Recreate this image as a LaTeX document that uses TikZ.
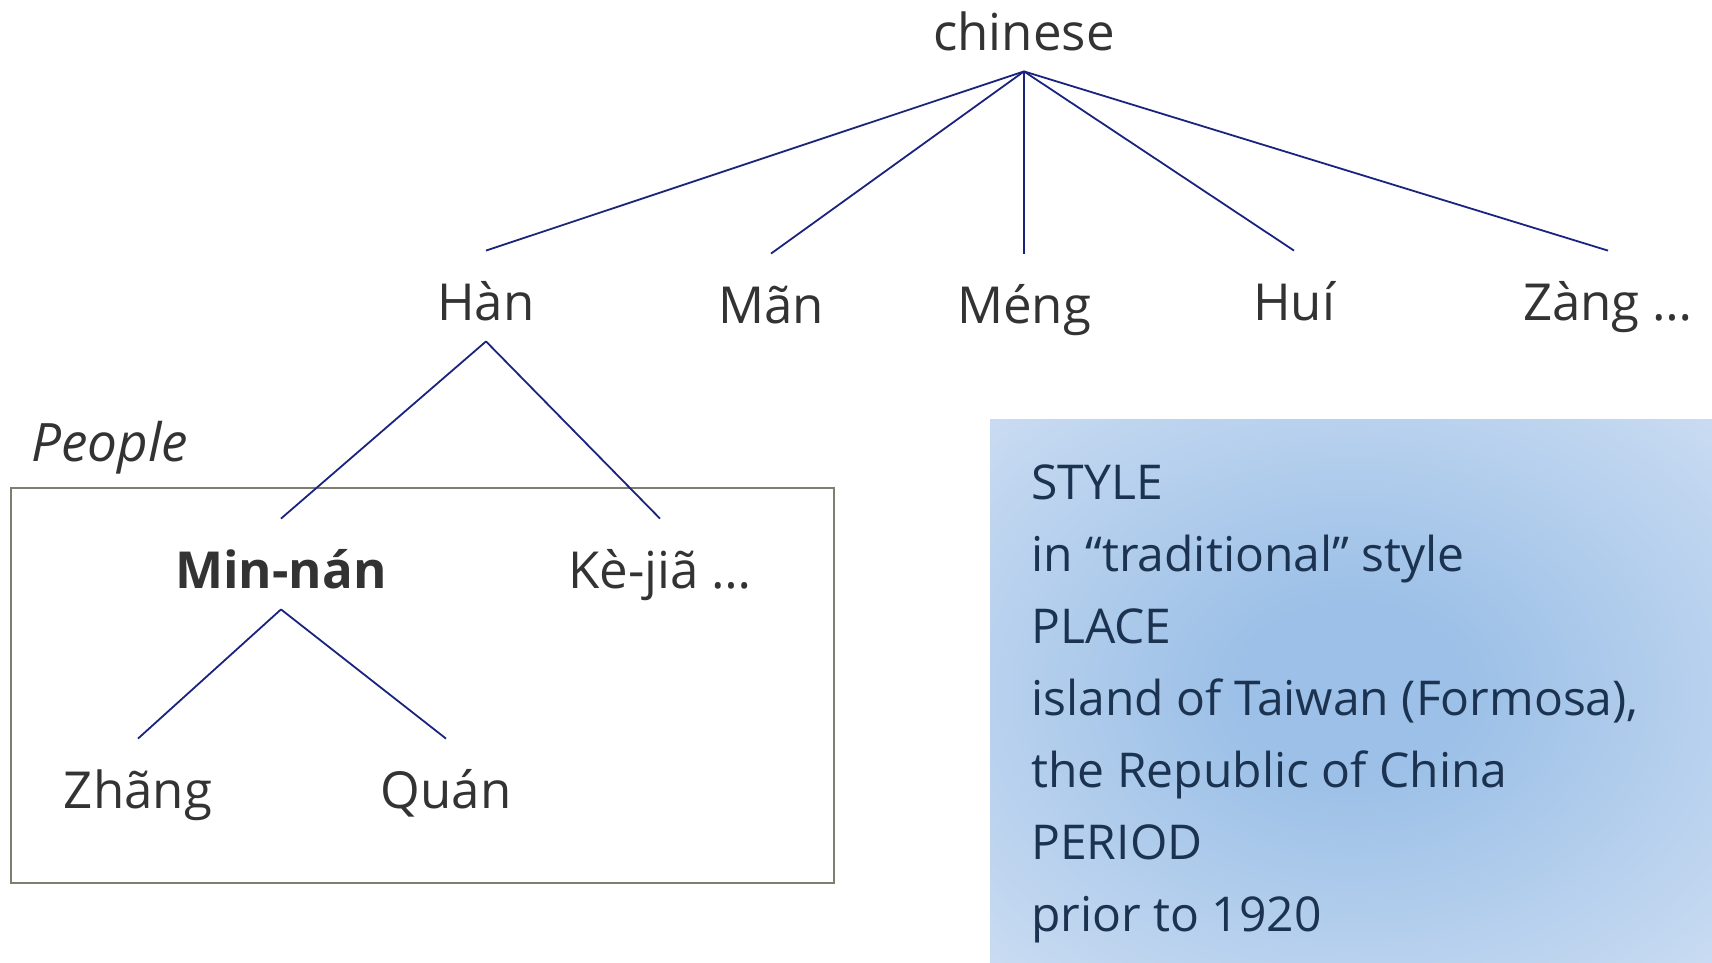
\documentclass[tikz,border=0pt]{standalone}
\usepackage{fontspec}
\setmainfont{Open Sans}
\usetikzlibrary{positioning}

\definecolor{treeline}{HTML}{1A237E}
\definecolor{labelgray}{HTML}{333333}
\definecolor{boxedge}{HTML}{7F7F70}
\definecolor{infoinner}{HTML}{9CC0E7}
\definecolor{infoouter}{HTML}{CADCF2}
\definecolor{infotext}{HTML}{1B3350}

\pgfdeclareradialshading{infoglow}{\pgfpoint{0bp}{0bp}}{%
    color(0bp)=(infoinner); color(8bp)=(infoinner); color(36bp)=(infoouter); color(60bp)=(infoouter)}

\tikzset{
    tn/.style={text=labelgray, font=\fontsize{25.5}{30}\selectfont, inner sep=0pt,
        text height=34.5pt, text depth=10.5pt, anchor=base},
    branch/.style={draw=treeline, line width=0.9pt},
    infoline/.style={text=infotext, font=\fontsize{24}{30}\selectfont, inner sep=0pt, anchor=base west},
}

\begin{document}
\begin{tikzpicture}[x=0.5pt, y=-0.5pt]
        \useasboundingbox (0,0) rectangle (1712,963);

        % Info panel
        \shade[shading=infoglow] (990,419) rectangle (1712,963);
        \foreach \i/\txt in {
            0/STYLE,
            1/{in “traditional” style},
            2/PLACE,
            3/{island of Taiwan (Formosa),},
            4/{the Republic of China},
            5/PERIOD,
            6/{prior to 1920}
        } {
            \node[infoline] (info\i) at (1031,499+72*\i) {\txt};
        }

        % People box
        \draw[boxedge, line width=1pt] (11,488) rectangle (834,883);
        \node[anchor=base west, inner sep=0pt, text=labelgray, font=\fontsize{26.5}{30}\selectfont\itshape] (people) at (31,461) {People};

        % Tree labels
        \node[tn, text depth=10pt] (chinese) at (1024,51) {chinese};
        \node[tn] (han)  at (486,320)  {Hàn};
        \node[tn] (man)  at (771,323)  {Mãn};
        \node[tn] (meng) at (1024,323) {Méng};
        \node[tn] (hui)  at (1294,320) {Huí};
        \node[tn] (zang) at (1608,320) {Zàng …};

        \node[tn, font=\fontsize{25.5}{30}\selectfont\bfseries] (minnan) at (281,588) {Min-nán};
        \node[tn] (kejia) at (660,588) {Kè-jiã …};

        \node[tn] (zhang) at (138,808) {Zhãng};
        \node[tn] (quan)  at (446,808) {Quán};

        % Branches
        \foreach \c in {han,man,meng,hui,zang} {
            \draw[branch] (chinese.south) -- (\c.north);
        }
        \foreach \c in {minnan,kejia} {
            \draw[branch] (han.south) -- (\c.north);
        }
        \foreach \c in {zhang,quan} {
            \draw[branch] (minnan.south) -- (\c.north);
        }
\end{tikzpicture}
\end{document}
